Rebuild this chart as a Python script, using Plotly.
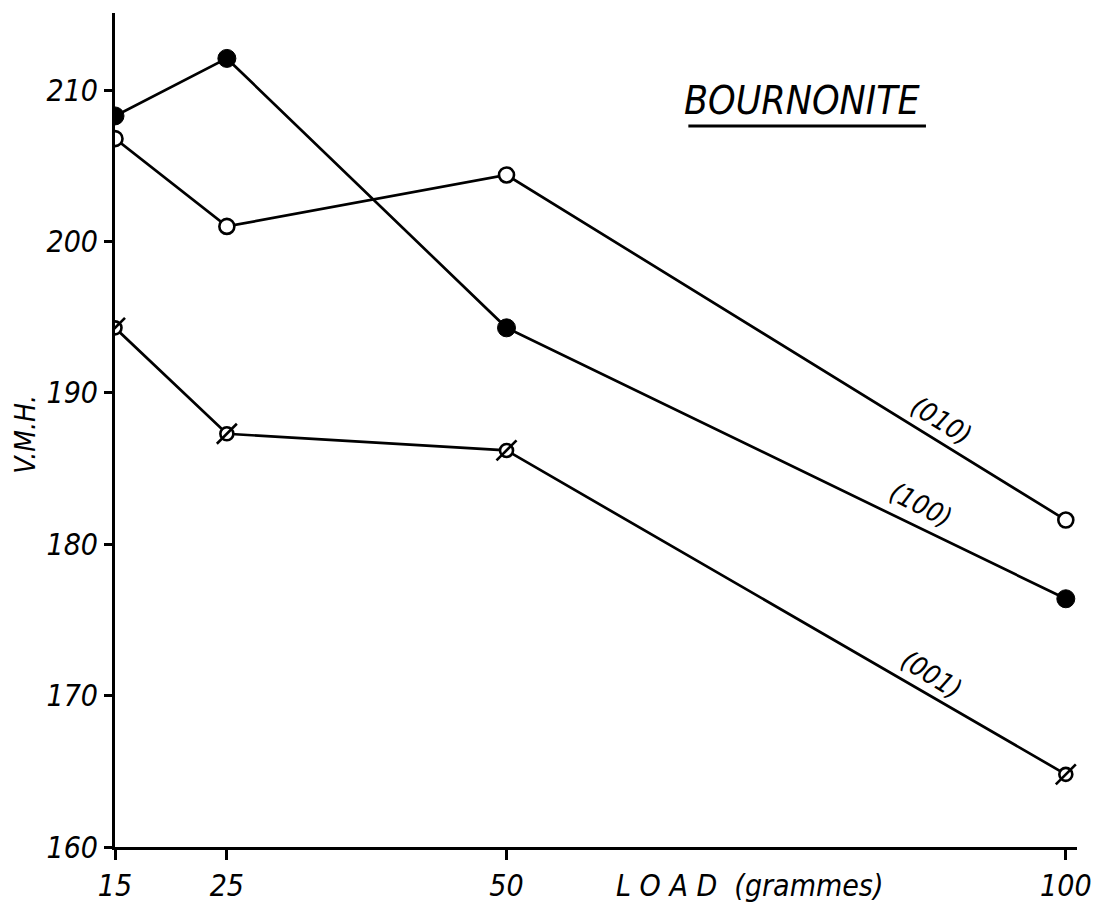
import plotly.graph_objects as go

# Data
loads = [15, 25, 50, 100]
vmh_100 = [208.3, 212.1, 194.3, 176.4]   # filled circles
vmh_010 = [206.8, 201.0, 204.4, 181.6]   # open circles
vmh_001 = [194.3, 187.3, 186.2, 164.8]   # slashed circles
x_ticks = [15, 25, 50, 100]
y_ticks = [160, 170, 180, 190, 200, 210]

FONT = "DejaVu Sans Condensed, DejaVu Sans"
line_style = dict(color="black", width=2.7)

fig = go.Figure()
fig.add_trace(go.Scatter(x=loads, y=vmh_010, mode="lines+markers", line=line_style,
                         marker=dict(symbol="circle", size=15, color="white",
                                     line=dict(color="black", width=2.6)), name="(010)"))
fig.add_trace(go.Scatter(x=loads, y=vmh_100, mode="lines+markers", line=line_style,
                         marker=dict(symbol="circle", size=18, color="black",
                                     line=dict(color="black", width=1)), name="(100)"))
fig.add_trace(go.Scatter(x=loads, y=vmh_001, mode="lines+markers", line=line_style,
                         marker=dict(symbol="circle", size=13, color="white",
                                     line=dict(color="black", width=2.6)), name="(001)"))
fig.add_trace(go.Scatter(x=loads, y=vmh_001, mode="markers",
                         marker=dict(symbol="line-ne", size=20, color="black",
                                     line=dict(color="black", width=2.6)), name="(001) slash"))

fig.update_layout(
    width=1103, height=901,
    margin=dict(l=107, r=34, t=5, b=62, autoexpand=False),
    paper_bgcolor="white", plot_bgcolor="white",
    showlegend=False,
    font=dict(family=FONT, color="black", size=28, style="italic"),
    xaxis=dict(range=[15, 101], tickvals=x_ticks, ticktext=[str(v) for v in x_ticks],
               showgrid=False, zeroline=False, showline=True, linecolor="black", linewidth=3,
               ticks="outside", ticklen=10, tickwidth=2.5, tickcolor="black",
               tickfont=dict(family=FONT, size=30, style="italic")),
    yaxis=dict(range=[160, 215.1], tickvals=y_ticks, ticktext=[str(v) for v in y_ticks],
               showgrid=False, zeroline=False, showline=True, linecolor="black", linewidth=3,
               ticks="outside", ticklen=8, tickwidth=2.5, tickcolor="black",
               tickfont=dict(family=FONT, size=30, style="italic")),
)

# Axis titles
fig.add_annotation(text="L O A D  (grammes)", xref="paper", yref="paper", x=0.66, y=-0.0456,
                   showarrow=False, xanchor="center", yanchor="middle",
                   font=dict(family=FONT, size=30, style="italic"))
fig.add_annotation(text="V.M.H.", xref="paper", yref="paper", x=-0.093, y=0.495,
                   showarrow=False, textangle=-90, xanchor="center", yanchor="middle",
                   font=dict(family=FONT, size=28, style="italic"))

# Title with underline
fig.add_annotation(text="BOURNONITE", xref="paper", yref="paper", x=0.715, y=0.895,
                   showarrow=False, xanchor="center", yanchor="middle",
                   font=dict(family=FONT, size=39, style="italic"))
fig.add_shape(type="line", xref="paper", yref="paper", x0=0.596, x1=0.843, y0=0.8645, y1=0.8645,
              line=dict(color="black", width=3))

# Series labels along the lines
for txt, x, y, ang in [("(010)", 88.9, 188.2, 32), ("(100)", 87.0, 182.6, 27), ("(001)", 88.0, 171.4, 32)]:
    fig.add_annotation(text=txt, x=x, y=y, showarrow=False, textangle=ang,
                       font=dict(family=FONT, size=27, style="italic"))

fig.write_html("out.html")
